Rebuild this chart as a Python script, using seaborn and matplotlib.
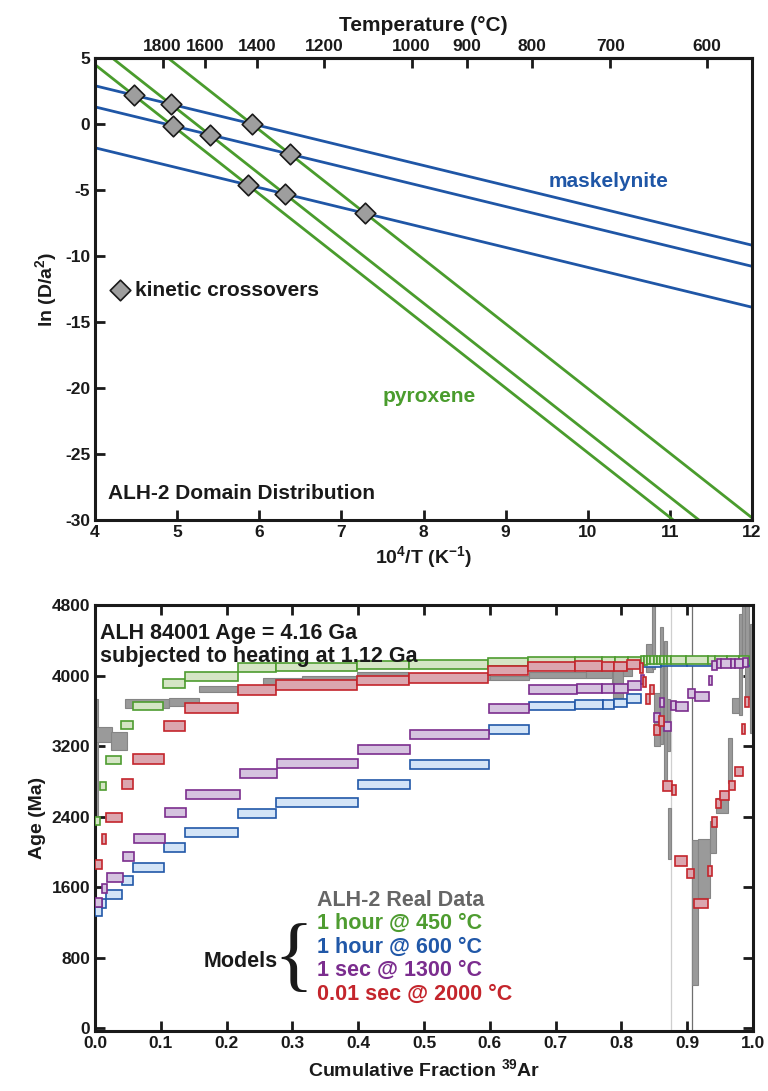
import numpy as np
import pandas as pd
import matplotlib
matplotlib.use("Agg")
import matplotlib.pyplot as plt
import seaborn as sns

# ---------------- data: top panel (Arrhenius lines) ----------------
blue_ln_at4 = [2.9, 1.3, -1.8]        # ln(D/a^2) at 10^4/T = 4, maskelynite domains
blue_slope = -1.51
green_ln_at4 = [4.5, 6.03, 9.36]      # pyroxene domains
green_slope = -4.9
temp_ticks_c = [1800, 1600, 1400, 1200, 1000, 900, 800, 700, 600]

# ---------------- data: bottom panel (age spectra) ----------------
# real data: fraction from / to, age min / max (Ma)
gray_lo = [0.000, 0.002, 0.025, 0.046, 0.113, 0.158, 0.256, 0.314, 0.398, 0.476, 0.601, 0.660, 0.746,
           0.785, 0.787, 0.802, 0.838, 0.846, 0.849, 0.858, 0.865, 0.869, 0.871, 0.908, 0.917, 0.935,
           0.944, 0.962, 0.968, 0.979, 0.984, 0.988, 0.995]
gray_hi = [0.004, 0.026, 0.048, 0.113, 0.158, 0.220, 0.314, 0.398, 0.476, 0.601, 0.660, 0.746, 0.786,
           0.790, 0.802, 0.816, 0.848, 0.851, 0.859, 0.863, 0.870, 0.874, 0.875, 0.917, 0.935, 0.944,
           0.962, 0.968, 0.981, 0.984, 0.990, 0.994, 1.000]
gray_min = [2380, 3250, 3150, 3630, 3650, 3815, 3895, 3920, 3955, 3945, 3945, 3968, 3968,
            3840, 3740, 3990, 4035, 4070, 3200, 3220, 2820, 3145, 1915, 495, 1480, 1990,
            2445, 2785, 3570, 3550, 4110, 3730, 3350]
gray_max = [3730, 3420, 3360, 3730, 3750, 3885, 3975, 4000, 4035, 4010, 4000, 4045, 4060,
            3960, 4090, 4125, 4355, 4800, 3805, 4545, 4390, 3730, 2500, 2140, 2150, 2350,
            2615, 3295, 3750, 4695, 4800, 4800, 4580]

# 1 hour @ 450 C
green_lo = [0.000, 0.008, 0.016, 0.040, 0.057, 0.104, 0.137, 0.218, 0.275, 0.398, 0.477, 0.598, 0.658,
            0.730, 0.771, 0.790, 0.810, 0.829, 0.834, 0.839, 0.844, 0.849, 0.854, 0.859, 0.864, 0.870,
            0.876, 0.898, 0.932, 0.942, 0.960, 0.978]
green_hi = [0.008, 0.016, 0.040, 0.057, 0.104, 0.137, 0.218, 0.275, 0.398, 0.477, 0.598, 0.658, 0.730,
            0.771, 0.790, 0.810, 0.829, 0.834, 0.839, 0.844, 0.849, 0.854, 0.859, 0.864, 0.870, 0.876,
            0.898, 0.932, 0.942, 0.960, 0.978, 0.994]
green_age = [2350, 2750, 3040, 3440, 3655, 3910, 3990, 4090, 4100, 4120, 4125, 4150, 4160,
             4162, 4165, 4165, 4168, 4170, 4170, 4172, 4172, 4172, 4172, 4172, 4172, 4174,
             4174, 4174, 4175, 4175, 4175, 4175]
green_err = 47

# 1 hour @ 600 C
blue_lo = [0.000, 0.010, 0.017, 0.041, 0.058, 0.105, 0.137, 0.218, 0.275, 0.399, 0.478, 0.599, 0.660,
           0.730, 0.772, 0.788, 0.809, 0.829, 0.860, 0.900, 0.950]
blue_hi = [0.010, 0.017, 0.041, 0.058, 0.105, 0.137, 0.218, 0.275, 0.399, 0.478, 0.599, 0.660, 0.730,
           0.772, 0.788, 0.809, 0.829, 0.860, 0.900, 0.950, 0.994]
blue_age = [1325, 1420, 1518, 1672, 1826, 2052, 2225, 2438, 2563, 2760, 2992, 3384, 3655,
            3668, 3670, 3688, 3740, 4150, 4155, 4158, 4160]
blue_err = 50

# 1 sec @ 1300 C
purple_lo = [0.000, 0.010, 0.018, 0.043, 0.059, 0.106, 0.138, 0.220, 0.276, 0.399, 0.479, 0.599, 0.660,
             0.732, 0.770, 0.788, 0.810, 0.829, 0.850, 0.858, 0.864, 0.876, 0.883, 0.901, 0.912, 0.933,
             0.938, 0.946, 0.951, 0.966, 0.972, 0.985]
purple_hi = [0.010, 0.018, 0.043, 0.059, 0.106, 0.138, 0.220, 0.276, 0.399, 0.479, 0.599, 0.660, 0.732,
             0.770, 0.788, 0.810, 0.829, 0.835, 0.859, 0.865, 0.876, 0.883, 0.901, 0.912, 0.933, 0.938,
             0.946, 0.951, 0.966, 0.972, 0.985, 0.993]
purple_age = [1432, 1580, 1713, 1950, 2157, 2448, 2656, 2894, 3007, 3158, 3333, 3630, 3838,
              3850, 3848, 3857, 3887, 3960, 3520, 3690, 3420, 3660, 3647, 3800, 3760, 3940,
              4110, 4135, 4140, 4140, 4140, 4150]
purple_err = 51

# 0.01 sec @ 2000 C
red_lo = [0.000, 0.010, 0.017, 0.041, 0.058, 0.105, 0.137, 0.218, 0.275, 0.398, 0.477, 0.598, 0.658,
          0.730, 0.771, 0.789, 0.809, 0.828, 0.833, 0.838, 0.844, 0.850, 0.857, 0.863, 0.877, 0.881,
          0.900, 0.910, 0.931, 0.937, 0.943, 0.950, 0.964, 0.973, 0.984, 0.988]
red_hi = [0.010, 0.017, 0.041, 0.058, 0.105, 0.137, 0.218, 0.275, 0.398, 0.477, 0.598, 0.658, 0.730,
          0.771, 0.789, 0.809, 0.828, 0.833, 0.838, 0.844, 0.850, 0.859, 0.864, 0.877, 0.883, 0.900,
          0.910, 0.932, 0.937, 0.945, 0.951, 0.964, 0.973, 0.985, 0.988, 0.994]
red_age = [1858, 2144, 2391, 2771, 3057, 3426, 3628, 3838, 3889, 3944, 3975, 4057, 4102,
           4105, 4103, 4103, 4125, 4085, 3928, 3730, 3840, 3380, 3484, 2746, 2700, 1897,
           1757, 1414, 1780, 2338, 2550, 2640, 2754, 2911, 3394, 3700]
red_err = 55

legend_labels = ["ALH-2 Real Data", "1 hour @ 450 °C", "1 hour @ 600 °C",
                 "1 sec @ 1300 °C", "0.01 sec @ 2000 °C"]

# ---------------- styling ----------------
sns.set_theme(style="ticks")
plt.rcParams["font.family"] = ["Liberation Sans", "DejaVu Sans"]
plt.rcParams["font.weight"] = "bold"
plt.rcParams["axes.labelweight"] = "bold"
plt.rcParams["axes.unicode_minus"] = False
plt.rcParams["mathtext.fontset"] = "custom"
plt.rcParams["mathtext.rm"] = "Liberation Sans:bold"
plt.rcParams["mathtext.it"] = "Liberation Sans:bold"
plt.rcParams["mathtext.bf"] = "Liberation Sans:bold"

C_BLUE_LINE = "#1f56a6"
C_GREEN_LINE = "#4a9c2d"
C_TEXT = "#1a1a1a"
SPINE_W = 2.2
TICK_FS = 12.5
ANN_FS = 15
LAB_FS = 14

fig = plt.figure(figsize=(7.68, 10.91), dpi=100)

# ================= top panel =================
ax1 = fig.add_axes([0.1237, 0.5234, 0.8555, 0.4234])
xs = np.array([3.5, 12.5])
rows = []
palette = {}
for i, b in enumerate(blue_ln_at4):
    name = f"maskelynite {i}"
    palette[name] = C_BLUE_LINE
    for x in xs:
        rows.append({"x": x, "y": b + blue_slope * (x - 4), "line": name})
for i, g in enumerate(green_ln_at4):
    name = f"pyroxene {i}"
    palette[name] = C_GREEN_LINE
    for x in xs:
        rows.append({"x": x, "y": g + green_slope * (x - 4), "line": name})
df_lines = pd.DataFrame(rows)
sns.lineplot(data=df_lines, x="x", y="y", hue="line", palette=palette, legend=False,
             linewidth=2.0, ax=ax1, sort=True)

# kinetic crossovers = intersections of each blue with each green line
cx, cy = [], []
for b in blue_ln_at4:
    for g in green_ln_at4:
        d = (b - g) / (green_slope - blue_slope)
        cx.append(4 + d)
        cy.append(b + blue_slope * d)
sns.scatterplot(x=cx, y=cy, marker="D", s=110, color="#9e9e9e", edgecolor="#1a1a1a",
                linewidth=1.2, zorder=5, ax=ax1)
sns.scatterplot(x=[4.30], y=[-12.58], marker="D", s=110, color="#9e9e9e", edgecolor="#1a1a1a",
                linewidth=1.2, zorder=5, ax=ax1)
ax1.text(4.49, -12.58, "kinetic crossovers", fontsize=ANN_FS, va="center", ha="left", color=C_TEXT)
ax1.text(10.25, -4.39, "maskelynite", fontsize=ANN_FS, va="center", ha="center", color=C_BLUE_LINE)
ax1.text(8.07, -20.68, "pyroxene", fontsize=ANN_FS, va="center", ha="center", color=C_GREEN_LINE)
ax1.text(4.16, -28.0, "ALH-2 Domain Distribution", fontsize=ANN_FS, va="center", ha="left", color=C_TEXT)

ax1.set_xlim(4, 12)
ax1.set_ylim(-30, 5)
ax1.set_xticks(range(4, 13))
ax1.set_yticks(range(-30, 6, 5))
ax1.tick_params(axis="both", direction="in", length=7, width=2, labelsize=TICK_FS,
                colors=C_TEXT, top=False, right=False)
for lab in ax1.get_xticklabels() + ax1.get_yticklabels():
    lab.set_fontweight("bold")
ax1.set_xlabel(r"10$^{4}$/T (K$^{-1}$)", fontsize=LAB_FS, labelpad=3, color=C_TEXT)
ax1.set_ylabel(r"ln (D/a$^{2}$)", fontsize=LAB_FS, labelpad=4, color=C_TEXT)
for sp in ax1.spines.values():
    sp.set_linewidth(SPINE_W)
    sp.set_color(C_TEXT)


def k2c(x):
    x = np.asarray(x, dtype=float)
    with np.errstate(divide="ignore", invalid="ignore"):
        return 1e4 / x - 273.15


def c2k(t):
    t = np.asarray(t, dtype=float)
    with np.errstate(divide="ignore", invalid="ignore"):
        return 1e4 / (t + 273.15)


sec = ax1.secondary_xaxis("top", functions=(k2c, c2k))
sec.set_xticks(temp_ticks_c)
sec.set_xticklabels([str(t) for t in temp_ticks_c], fontweight="bold")
sec.tick_params(direction="in", length=7, width=2, labelsize=TICK_FS, colors=C_TEXT, pad=3)
sec.set_xlabel("Temperature (°C)", fontsize=ANN_FS, labelpad=6, color=C_TEXT)
sec.spines["top"].set_linewidth(SPINE_W)

# ================= bottom panel =================
ax2 = fig.add_axes([0.1237, 0.0550, 0.8568, 0.3905])


def draw_boxes(ax, lo, hi, ymin, ymax, face, edge, lw, z):
    lo = np.asarray(lo); hi = np.asarray(hi)
    ymin = np.asarray(ymin, float); ymax = np.asarray(ymax, float)
    ax.bar(lo, ymax - ymin, width=hi - lo, bottom=ymin, align="edge",
           color=face, edgecolor=edge, linewidth=lw, zorder=z)


ax2.axvline(0.875, color="#cfcfcf", linewidth=0.9, zorder=1)
ax2.axvline(0.9078, color="#6f6f6f", linewidth=0.9, zorder=1)

draw_boxes(ax2, gray_lo, gray_hi, gray_min, gray_max, "#9a9a9a", "#858585", 0.8, 2)
model_styles = [
    (blue_lo, blue_hi, blue_age, blue_err, "#d3e4f7", "#2158a8"),
    (green_lo, green_hi, green_age, green_err, "#d5e5c5", "#4e9c30"),
    (purple_lo, purple_hi, purple_age, purple_err, "#d5c3df", "#7b2d8e"),
    (red_lo, red_hi, red_age, red_err, "#dba6af", "#c4252c"),
]
for k, (lo, hi, age, err, face, edge) in enumerate(model_styles):
    age = np.asarray(age, float)
    draw_boxes(ax2, lo, hi, age - err, age + err, face, edge, 1.2, 3 + k)

ax2.set_xlim(0, 1.0)
ax2.set_ylim(-30, 4800)
ax2.set_xticks(np.round(np.arange(0, 1.01, 0.1), 1))
ax2.set_xticklabels([f"{v:.1f}" for v in np.arange(0, 1.01, 0.1)])
ax2.set_yticks(range(0, 4801, 800))
ax2.tick_params(axis="both", direction="in", length=7, width=2, labelsize=TICK_FS,
                colors=C_TEXT, top=True, right=True)
for lab in ax2.get_xticklabels() + ax2.get_yticklabels():
    lab.set_fontweight("bold")
ax2.set_xlabel(r"Cumulative Fraction $^{39}$Ar", fontsize=LAB_FS, labelpad=5, color=C_TEXT)
ax2.set_ylabel("Age (Ma)", fontsize=LAB_FS, labelpad=4, color=C_TEXT)
for sp in ax2.spines.values():
    sp.set_linewidth(SPINE_W)
    sp.set_color(C_TEXT)

ax2.text(0.008, 0.934, "ALH 84001 Age = 4.16 Ga", transform=ax2.transAxes,
         fontsize=15.5, va="center", ha="left", color=C_TEXT, zorder=10)
ax2.text(0.008, 0.878, "subjected to heating at 1.12 Ga", transform=ax2.transAxes,
         fontsize=15.5, va="center", ha="left", color=C_TEXT, zorder=10)

legend_colors = ["#666666", "#4e9c30", "#2158a8", "#7b2d8e", "#c4252c"]
for i, (lab, col) in enumerate(zip(legend_labels, legend_colors)):
    ax2.text(0.337, 0.307 - 0.0552 * i, lab, transform=ax2.transAxes, fontsize=15.5,
             va="center", ha="left", color=col, zorder=10)
ax2.text(0.277, 0.162, "Models", transform=ax2.transAxes, fontsize=15.5,
         va="center", ha="right", color=C_TEXT, zorder=10)
ax2.text(0.302, 0.163, "{", transform=ax2.transAxes, fontsize=60, fontweight="normal",
         family="Liberation Serif", va="center", ha="center", color=C_TEXT, zorder=10)

fig.savefig("out.png", dpi=100)
